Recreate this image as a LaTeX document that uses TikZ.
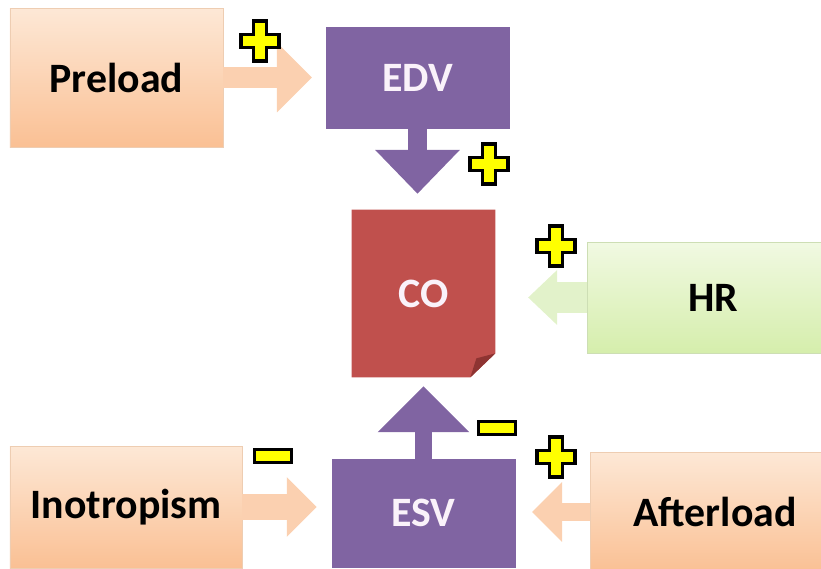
\documentclass[tikz,border=0pt]{standalone}
\usepackage{fontspec}
\setmainfont{Carlito}
\usetikzlibrary{arrows.meta,backgrounds}
\definecolor{box_or_top}{RGB}{253,232,214}
\definecolor{box_or_bot}{RGB}{250,192,148}
\definecolor{edge_or}{RGB}{238,205,178}
\definecolor{arrow_or}{RGB}{251,208,176}
\definecolor{box_gr_top}{RGB}{241,249,226}
\definecolor{box_gr_bot}{RGB}{213,238,172}
\definecolor{edge_gr}{RGB}{205,222,180}
\definecolor{arrow_gr}{RGB}{226,242,202}
\definecolor{vol_purple}{RGB}{128,100,162}
\definecolor{co_red}{RGB}{192,80,77}
\definecolor{co_fold}{RGB}{142,52,50}
\definecolor{txt_white}{RGB}{250,242,250}
\definecolor{sign_yell}{RGB}{255,255,0}
\tikzset{
  flow/.style n args={4}{line width=#1,-{Triangle[width=#2,length=#3,line width=0pt]},shorten >=#4},
  sign/.style={fill=sign_yell,draw=black,line width=2.1pt},
  signplus/.pic={\filldraw[sign] (-0.065,0.2) -- (0.065,0.2) -- (0.065,0.065) -- (0.19,0.065)
     -- (0.19,-0.065) -- (0.065,-0.065) -- (0.065,-0.2) -- (-0.065,-0.2) -- (-0.065,-0.065)
     -- (-0.19,-0.065) -- (-0.19,0.065) -- (-0.065,0.065) -- cycle;},
  signminus/.pic={\filldraw[sign] (-0.185,-0.065) rectangle (0.185,0.065);}
}

\begin{document}
\begin{tikzpicture}[x=2cm,y=2cm,line join=miter]
    \tikzstyle{box}=[draw, rectangle, inner sep=0pt, font=\fontsize{23.8pt}{28pt}\selectfont\bfseries]
    \tikzstyle{boxor}=[style=box, draw=edge_or, top color=box_or_top, bottom color=box_or_bot, text=black]
    \tikzstyle{boxgr}=[style=box, draw=edge_gr, top color=box_gr_top, bottom color=box_gr_bot, text=black]
    \tikzstyle{boxpu}=[style=box, draw=vol_purple, fill=vol_purple, text=txt_white]
    \tikzstyle{boxco}=[style=box, draw=none, text=txt_white]

    \useasboundingbox (0,0) rectangle (8.21,5.68);
    \clip (0,0) rectangle (8.21,5.68);

    \node[boxor, minimum width=4.26cm, minimum height=2.78cm] (Preload)    at (1.165,4.905) {Preload};
    \node[boxpu, minimum width=3.66cm, minimum height=2.02cm] (EDV)        at (4.175,4.905) {EDV};
    \node[boxco, minimum width=2.86cm, minimum height=3.34cm] (CO)         at (4.235,2.745) {CO};
    \node[boxgr, minimum width=5.06cm, minimum height=2.22cm] (HR)         at (7.135,2.705) {HR};
    \node[boxor, minimum width=4.64cm, minimum height=2.44cm] (Inotropism) at (1.26,0.61)   {Inotropism};
    \node[boxpu, minimum width=3.66cm, minimum height=2.16cm] (ESV)        at (4.235,0.55)  {ESV};
    \node[boxor, minimum width=5.0cm,  minimum height=2.4cm]  (Afterload)  at (7.15,0.56)   {Afterload};

    \begin{scope}[on background layer]
      \fill[co_red] (CO.south west) -- (CO.north west) -- (CO.north east)
        -- ([yshift=0.48cm]CO.south east) -- ([xshift=-0.5cm]CO.south east) -- cycle;
      \fill[co_fold] ([yshift=0.48cm]CO.south east) -- ([xshift=-0.5cm]CO.south east)
        -- ([xshift=-0.38cm,yshift=0.38cm]CO.south east) -- cycle;
    \end{scope}

    \path
     (Preload)          edge[arrow_or,   flow={11.9pt}{39.7pt}{19.8pt}{7.9pt}]  (EDV)
     (EDV.south)        edge[vol_purple, flow={11.3pt}{48.2pt}{24.9pt}{9.1pt}]  (EDV.south |- CO.north)
     (HR.west)          edge[arrow_gr,   flow={17.6pt}{31.2pt}{16.4pt}{18.7pt}] (HR.west -| CO.east)
     (ESV.north)        edge[vol_purple, flow={9.6pt}{52.2pt}{26.1pt}{5.1pt}]   (ESV.north |- CO.south)
     (Inotropism.east)  edge[arrow_or,   flow={15.3pt}{34pt}{17pt}{8.5pt}]      (Inotropism.east -| ESV.west)
     (Afterload.west)   edge[arrow_or,   flow={10.8pt}{34pt}{17pt}{9.6pt}]      (Afterload.west -| ESV.east);

    \pic at (2.60,5.27) {signplus};
    \pic at (4.89,4.04) {signplus};
    \pic at (5.56,3.22) {signplus};
    \pic at (5.56,1.11) {signplus};
    \pic at (2.73,1.12) {signminus};
    \pic at (4.97,1.40) {signminus};
\end{tikzpicture}
\end{document}
